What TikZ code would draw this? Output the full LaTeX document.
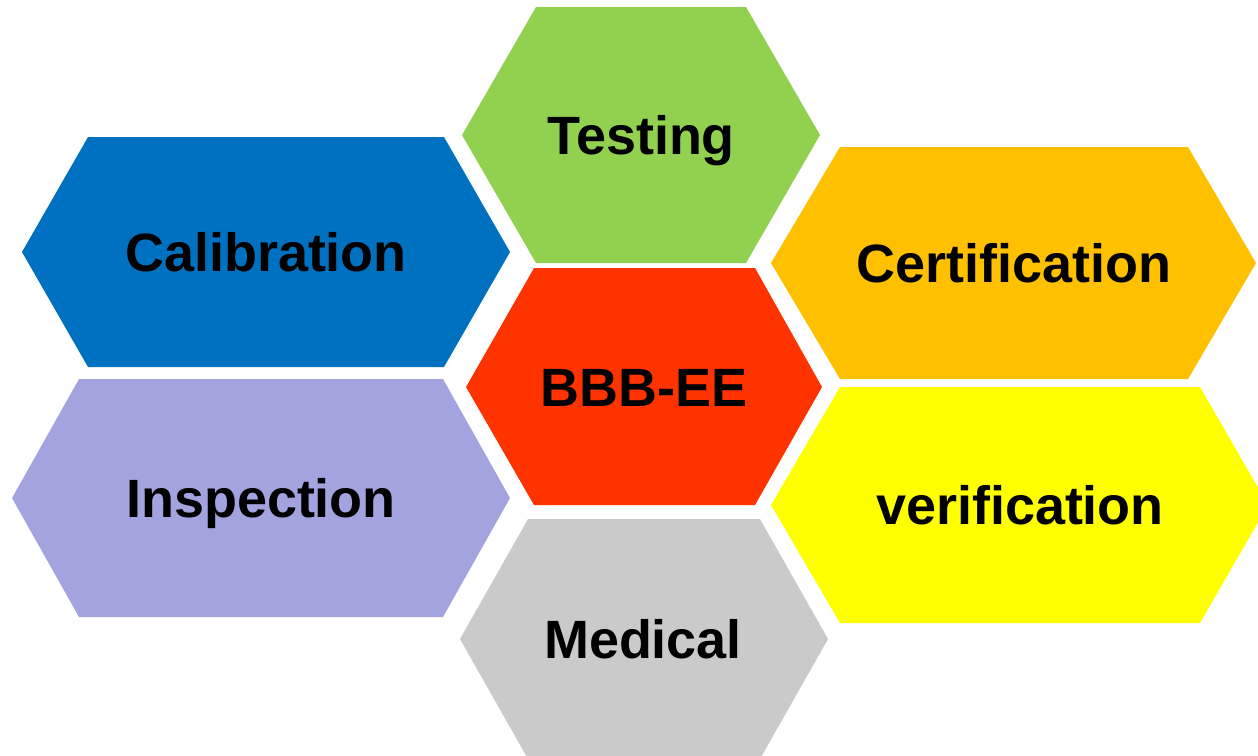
\documentclass[tikz,border=0pt]{standalone}
\usepackage{fontspec}
\setmainfont{Liberation Sans}
\usepackage{tikz}

\definecolor{testc}{HTML}{92D050}
\definecolor{calibc}{HTML}{0070C0}
\definecolor{certc}{HTML}{FFC000}
\definecolor{corec}{HTML}{FF3300}
\definecolor{inspc}{HTML}{A3A3DF}
\definecolor{verc}{HTML}{FFFF00}
\definecolor{medc}{HTML}{CACACA}

\begin{document}
\begin{tikzpicture}[x=0.02cm,y=-0.02cm,
	lbl/.style={inner sep=0pt, text height=22pt, text depth=0pt, font=\fontsize{30.7}{36}\selectfont\bfseries}]
			\clip (0,0) rectangle (1258,755);
			\fill[white] (0,0) rectangle (1258,755);
			
			% cells
			\fill[testc] (536,7) -- (746,7) -- (820,135) -- (746,263) -- (536,263) -- (462,135) -- cycle;
			\fill[calibc] (88,137) -- (444,137) -- (510,252) -- (444,367) -- (88,367) -- (22,252) -- cycle;
			\fill[certc] (840,147) -- (1188,147) -- (1256,263) -- (1188,379) -- (840,379) -- (771,263) -- cycle;
			\fill[corec] (534,268) -- (755,268) -- (822,387) -- (755,505) -- (534,505) -- (466,387) -- cycle;
			\fill[inspc] (79,379) -- (443,379) -- (510,498) -- (443,617) -- (79,617) -- (12,498) -- cycle;
			\fill[verc] (840,387) -- (1200,387) -- (1268,505) -- (1200,623) -- (840,623) -- (771,505) -- cycle;
			\fill[medc] (528,519) -- (760,519) -- (828,639) -- (760,759) -- (528,759) -- (460,639) -- cycle;
			
			% labels
			\node	(test) at (641,135) [lbl] {Testing};
			\node	(calib) at (266,252) [lbl] {Calibration};
			\node	(cert) at (1014,263) [lbl] {Certification};
			\node	(core) at (644,387) [lbl] {BBB-EE};
			\node	(insp) at (261,498) [lbl] {Inspection};
			\node	(ver) at (1020,505) [lbl] {verification};
			\node	(med) at (643,639) [lbl] {Medical};
		\end{tikzpicture}
\end{document}
